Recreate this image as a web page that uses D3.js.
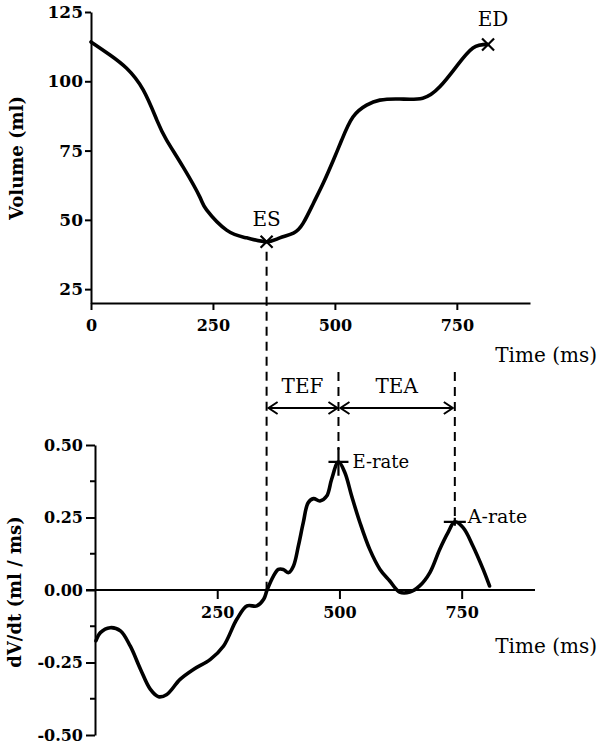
<!DOCTYPE html>
<html>
<head>
<meta charset="utf-8">
<script src="https://cdn.jsdelivr.net/npm/d3@7/dist/d3.min.js"></script>
<style>
  html, body { margin: 0; padding: 0; background: #fff; }
  svg { display: block; }
</style>
</head>
<body>
<script>
// ---------- data ----------
const volTime  = [0, 39, 73, 107, 135, 155, 189, 223, 237, 278, 319, 360, 387, 415, 435, 456, 476, 497, 514, 537, 565, 592, 633, 680, 715, 749, 783, 814];
const volValue = [114.2, 109.5, 104.7, 96.9, 86, 78.8, 69, 58.3, 53.6, 46.3, 43.5, 42.1, 43.5, 45.2, 48.8, 56, 63.2, 71.6, 78.8, 87.1, 91.4, 93.2, 93.6, 93.9, 98, 105.3, 112, 113.3];

const rateTime  = [2, 11, 31, 52, 72, 93, 113, 130, 147, 174, 202, 236, 263, 290, 311, 331, 345, 352, 365, 375, 385, 396, 406, 416, 426, 436, 447, 460, 474, 484, 498, 511, 525, 542, 562, 583, 603, 623, 644, 664, 685, 705, 722, 736, 753, 773, 794, 807];
const rateValue = [-0.175, -0.147, -0.130, -0.141, -0.193, -0.273, -0.342, -0.368, -0.360, -0.308, -0.273, -0.239, -0.193, -0.101, -0.055, -0.055, -0.032, 0.0, 0.048, 0.071, 0.071, 0.06, 0.083, 0.152, 0.232, 0.301, 0.315, 0.307, 0.324, 0.382, 0.442, 0.405, 0.324, 0.232, 0.140, 0.071, 0.031, -0.007, -0.007, 0.014, 0.06, 0.14, 0.198, 0.235, 0.215, 0.152, 0.071, 0.014];

const volTicks = [25, 50, 75, 100, 125];
const volTickLabels = ["25", "50", "75", "100", "125"];
const topTimeTicks = [0, 250, 500, 750];
const bottomTimeTicks = [250, 500, 750];
const rateTicks = [-0.5, -0.25, 0, 0.25, 0.5];
const rateTickLabels = ["-0.50", "-0.25", "0.00", "0.25", "0.50"];
const rateMinorTicks = [-0.375, -0.125, 0.125, 0.375];

const esPoint = { t: 360, v: 42.1, label: "ES" };
const edPoint = { t: 814, v: 113.3, label: "ED" };
const eRatePoint = { t: 498, v: 0.442, label: "E-rate" };
const aRatePoint = { t: 736, v: 0.235, label: "A-rate" };
const intervalLabels = ["TEF", "TEA"];
const xTitle = "Time (ms)";
const topYTitle = "Volume (ml)";
const bottomYTitle = "dV/dt (ml / ms)";

// ---------- layout ----------
const W = 600, H = 745;
const FONT = "'DejaVu Serif', 'Liberation Serif', serif";
const svg = d3.select("body").append("svg").attr("width", W).attr("height", H);

const xTop = d3.scaleLinear().domain([0, 900]).range([91, 530]);
const yTop = d3.scaleLinear().domain([20, 125]).range([303, 12]);
const xBot = d3.scaleLinear().domain([0, 900]).range([95, 535]);
const yBot = d3.scaleLinear().domain([-0.5, 0.5]).range([735, 445]);

function styleAxis(g, fs) {
  g.select(".domain").attr("stroke", "#000").attr("stroke-width", 2);
  g.selectAll(".tick line").attr("stroke", "#000").attr("stroke-width", 2);
  g.selectAll(".tick text").attr("fill", "#000")
    .attr("font-family", FONT).attr("font-weight", "bold").attr("font-size", fs);
}

// ---------- top chart ----------
const gTopY = svg.append("g").attr("transform", `translate(${xTop(0)},0)`)
  .call(d3.axisLeft(yTop).tickValues(volTicks).tickFormat((d, i) => volTickLabels[i])
    .tickSize(6).tickSizeOuter(0).tickPadding(2));
styleAxis(gTopY, 17);

const gTopX = svg.append("g").attr("transform", `translate(0,${yTop(20)})`)
  .call(d3.axisBottom(xTop).tickValues(topTimeTicks).tickFormat(d3.format("d"))
    .tickSize(7).tickSizeOuter(0).tickPadding(10));
styleAxis(gTopX, 16);

const volData = volTime.map((t, i) => ({ t, v: volValue[i] }));
svg.append("path").datum(volData)
  .attr("fill", "none").attr("stroke", "#000").attr("stroke-width", 3.6)
  .attr("stroke-linejoin", "round").attr("stroke-linecap", "round")
  .attr("d", d3.line().x(d => xTop(d.t)).y(d => yTop(d.v)).curve(d3.curveNatural));

// ---------- bottom chart ----------
const gBotY = svg.append("g").attr("transform", `translate(${xBot(0)},0)`)
  .call(d3.axisLeft(yBot).tickValues(rateTicks).tickFormat((d, i) => rateTickLabels[i])
    .tickSize(9).tickSizeOuter(0).tickPadding(3));
styleAxis(gBotY, 16);
gBotY.selectAll(".minor").data(rateMinorTicks).enter().append("line")
  .attr("x1", -5).attr("x2", 0).attr("y1", d => yBot(d)).attr("y2", d => yBot(d))
  .attr("stroke", "#000").attr("stroke-width", 2);

const gBotX = svg.append("g").attr("transform", `translate(0,${yBot(0)})`)
  .call(d3.axisBottom(xBot).tickValues(bottomTimeTicks).tickFormat(d3.format("d"))
    .tickSize(9).tickSizeOuter(0).tickPadding(8));
styleAxis(gBotX, 16);
gBotX.select(".domain").attr("d", `M${xBot(0) - 9},0H${xBot(900)}`);

const rateData = rateTime.map((t, i) => ({ t, v: rateValue[i] }));
svg.append("path").datum(rateData)
  .attr("fill", "none").attr("stroke", "#000").attr("stroke-width", 3.6)
  .attr("stroke-linejoin", "round").attr("stroke-linecap", "round")
  .attr("d", d3.line().x(d => xBot(d.t)).y(d => yBot(d.v)).curve(d3.curveCatmullRom.alpha(0.5)));

// ---------- axis titles ----------
function txt(x, y, s, fs, opts = {}) {
  const t = svg.append("text").attr("x", x).attr("y", y).text(s)
    .attr("font-family", FONT).attr("font-size", fs).attr("fill", "#000")
    .attr("font-weight", opts.bold ? "bold" : "normal")
    .attr("text-anchor", opts.anchor || "start");
  if (opts.rotate) t.attr("transform", `rotate(-90,${x},${y})`);
  return t;
}
txt(597, 362, xTitle, 20, { anchor: "end" });
txt(597, 653, xTitle, 20, { anchor: "end" });
txt(23, 158, topYTitle, 18, { bold: true, anchor: "middle", rotate: true });
txt(21, 592, bottomYTitle, 18, { bold: true, anchor: "middle", rotate: true });

// ---------- event markers ----------
const dash = "9,6";
const arrowY = 408, lineTop = 372;
const xES = xTop(esPoint.t), yES = yTop(esPoint.v);
const xED = xTop(edPoint.t), yED = yTop(edPoint.v);
const xE = xBot(eRatePoint.t), yE = yBot(eRatePoint.v);
const xA = xBot(aRatePoint.t), yA = yBot(aRatePoint.v);

function cross(x, y, r) {
  svg.append("path").attr("d", `M${x - r},${y - r}L${x + r},${y + r}M${x - r},${y + r}L${x + r},${y - r}`)
    .attr("stroke", "#000").attr("stroke-width", 2.2).attr("fill", "none");
}
function plus(x, y, rx, ry) {
  svg.append("path").attr("d", `M${x - rx},${y}H${x + rx}M${x},${y - ry}V${y + ry}`)
    .attr("stroke", "#000").attr("stroke-width", 2.2).attr("fill", "none");
}
function vdash(x, y1, y2) {
  svg.append("line").attr("x1", x).attr("x2", x).attr("y1", y1).attr("y2", y2)
    .attr("stroke", "#000").attr("stroke-width", 2).attr("stroke-dasharray", dash);
}
cross(xES, yES, 6);
cross(xED, yED, 6);
txt(xES, yES - 16, esPoint.label, 20, { anchor: "middle" });
txt(xED + 5, yED - 18, edPoint.label, 20, { anchor: "middle" });

vdash(xES, yES + 10, yBot(0));
vdash(xE, lineTop, yE - 12);
vdash(xA, lineTop, yA - 4);
plus(xE, yE, 10, 14);
plus(xA, yA, 11, 4);
txt(xE + 14, yE + 6, eRatePoint.label, 18);
txt(xA + 13, yA + 1, aRatePoint.label, 19);

// interval arrows
function arrow(x1, x2, y) {
  const h = 9, w = 6;
  svg.append("path")
    .attr("d", `M${x1},${y}H${x2}M${x1 + h},${y - w}L${x1},${y}L${x1 + h},${y + w}M${x2 - h},${y - w}L${x2},${y}L${x2 - h},${y + w}`)
    .attr("stroke", "#000").attr("stroke-width", 2).attr("fill", "none")
    .attr("stroke-linejoin", "miter");
}
arrow(xES + 2, xE - 1, arrowY);
arrow(xE + 2, xA - 2, arrowY);
txt((xES + xE) / 2, 393, intervalLabels[0], 20, { anchor: "middle" });
txt((xE + xA) / 2, 393, intervalLabels[1], 20, { anchor: "middle" });
</script>
</body>
</html>
